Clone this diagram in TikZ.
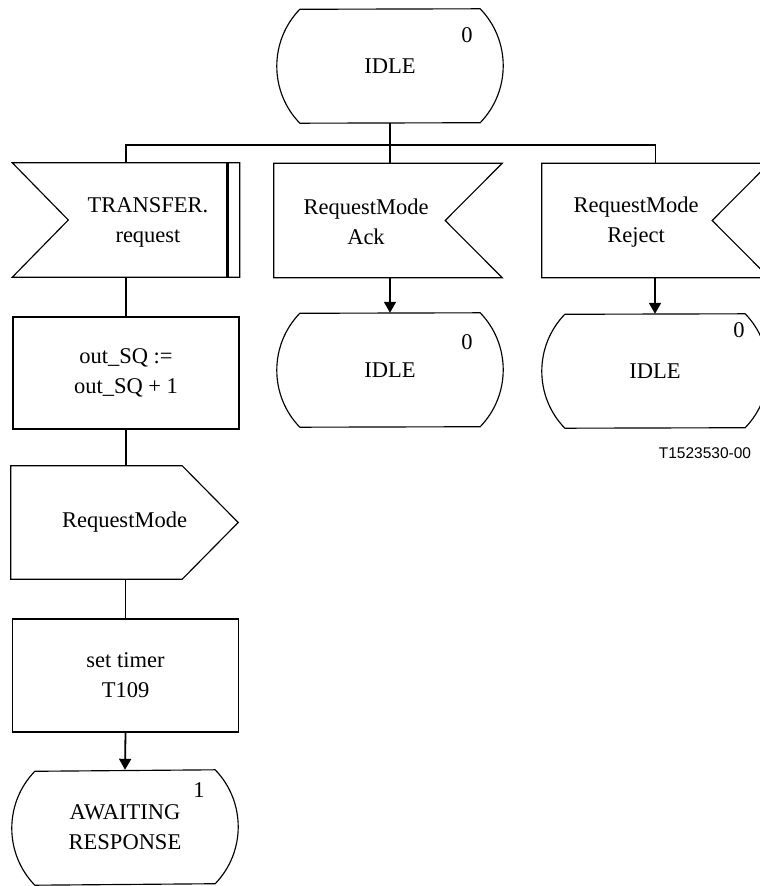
\documentclass[tikz,border=0pt]{standalone}
\usepackage{fontspec}
\setmainfont{Liberation Serif}
\newfontfamily\labelfont{Liberation Sans}
\usetikzlibrary{arrows.meta,calc}
\newcommand\drawstate[1]{\draw[outl] ([xshift=-23pt]#1.north east) arc[start angle=44,end angle=-44,radius=82pt] -- ([xshift=23pt]#1.south west) arc[start angle=224,end angle=136,radius=82pt] -- cycle;}
\newcommand\drawinleft[1]{\draw[outl] (#1.north west) -- (#1.north east) -- (#1.south east) -- (#1.south west) -- ([xshift=56pt]#1.west) -- cycle;
  \draw[line width=2.5pt] ([xshift=-12pt,yshift=-0.6pt]#1.north east) -- ([xshift=-12pt,yshift=0.6pt]#1.south east);}
\newcommand\drawinright[1]{\draw[outl] (#1.north east) -- (#1.north west) -- (#1.south west) -- (#1.south east) -- ([xshift=-57pt]#1.east) -- cycle;}
\newcommand\drawout[1]{\draw[outl] (#1.north west) -- ([xshift=-56pt]#1.north east) -- (#1.east) -- ([xshift=-56pt]#1.south east) -- (#1.south west) -- cycle;}
\begin{document}
\begin{tikzpicture}[x=1pt,y=1pt,
  txt/.style={font=\fontsize{22.5}{30}\selectfont, align=center, inner sep=0pt},
  shp/.style={draw=none, minimum width=#1, minimum height=114pt, inner sep=0pt, font=\fontsize{22.5}{30}\selectfont, align=center},
  boxnode/.style={draw, line width=1.15pt, minimum width=226pt, minimum height=113pt, inner sep=0pt, font=\fontsize{22.5}{30}\selectfont, align=center},
  outl/.style={line width=1.15pt, line join=miter},
  conn/.style={line width=1.3pt},
  aconn/.style={line width=1.8pt, -{Triangle[length=11pt,width=12pt]}},
  numtxt/.style={font=\fontsize{22.5}{30}\selectfont, inner sep=0pt},
  tag/.style={font=\labelfont\fontsize{15.5}{18}\selectfont, inner sep=0pt}
]
\useasboundingbox (0,0) rectangle (760,-886);

% states
\node[shp=226pt] (s0) at (390,-66) {IDLE};
\drawstate{s0}
\node[numtxt] (n0) at (467,-35) {0};

% inputs
\node[shp=227pt] (in1) at (126,-220) {};
\drawinleft{in1}
\node[txt] (t1) at (148,-222) {TRANSFER.\\request};

\node[shp=228pt] (in2) at (388,-220.5) {};
\drawinright{in2}
\node[txt] (t2) at (366,-222) {RequestMode\\Ack};

\node[shp=227pt] (in3) at (655.5,-220.5) {};
\drawinright{in3}
\node[txt] (t3) at (636,-222) {RequestMode\\Reject};

% next states
\node[shp=226pt] (s1) at (390,-370) {IDLE};
\drawstate{s1}
\node[numtxt] (n1) at (467,-342) {0};

\node[shp=226pt] (s2) at (655,-371) {IDLE};
\drawstate{s2}
\node[numtxt] (n2) at (739,-330) {0};

% left column
\node[boxnode, minimum height=112pt] (p1) at (126,-373) {out\_SQ :=\\out\_SQ + 1};

\node[shp=227pt, minimum height=113pt] (o1) at (124.5,-522.5) {RequestMode};
\drawout{o1}

\node[boxnode] (p2) at (125.5,-675.5) {set timer\\T109};

\node[shp=226pt, minimum height=115pt] (s3) at (125,-827.5) {AWAITING\\RESPONSE};
\drawstate{s3}
\node[numtxt] (n3) at (199,-790) {1};

\node[tag] (lbl) at (705,-453) {T1523530-00};

% connectors
\coordinate (br) at (390,-145);
\draw[line width=1.8pt] (s0.south) -- (br);
\draw[conn] (in1.north) |- (br) -| (in3.north);
\draw[conn] (br) -- (br |- in2.north);
\draw[conn] (in1.south) -- (p1.north);
\draw[conn] (p1.south) -- (o1.north -| p1.south);
\draw[conn] (o1.south -| p2.north) -- (p2.north);
\draw[aconn] (p2.south) -- (s3.north);
\draw[aconn] (in2.south -| s1.north) -- (s1.north);
\draw[aconn] (in3.south -| s2.north) -- (s2.north);
\end{tikzpicture}
\end{document}
